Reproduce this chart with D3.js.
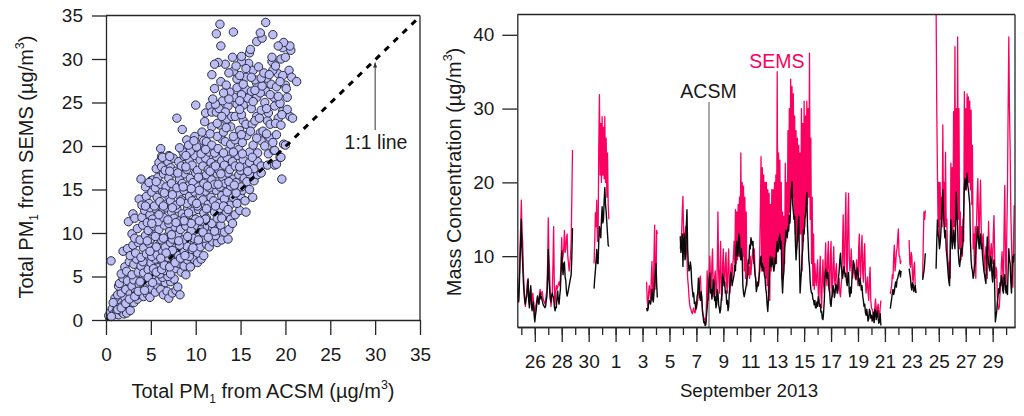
<!DOCTYPE html>
<html>
<head>
<meta charset="utf-8">
<script src="https://cdn.jsdelivr.net/npm/d3@7"></script>
<style>
  html, body { margin: 0; padding: 0; background: #fff; }
  svg { display: block; }
  text { font-family: "Liberation Sans", Arial, sans-serif; font-size: 19.5px; fill: #1a1a1a; }
  .domain, .tick line { stroke: #262626; stroke-width: 1.3; }
</style>
</head>
<body>
<div id="chart"></div>
<script>
// scatter: [PM1 from ACSM, PM1 from SEMS]
const scatterPoints = [
  [0.3,0.5],[0.5,0.9],[0.7,1.3],[0.9,0.7],[1.1,1.8],[1.2,1.1],[1.4,0.6],[1.5,1.5],[1.6,2.3],[1.8,0.9],[1.9,1.7],[2.0,0.7],
  [2.1,2.6],[2.3,1.2],[2.3,0.8],[2.5,2.0],[2.7,1.1],[1.0,2.5],[1.3,2.9],[0.8,2.0],[1.7,3.1],[2.9,2.0],[3.1,2.0],[3.5,2.4],
  [1.4,3.9],[1.5,4.2],[1.9,4.8],[2.2,3.5],[2.4,4.5],[2.7,3.0],[2.9,3.9],[3.1,4.6],[3.3,3.2],[3.4,2.8],[3.7,4.1],[3.9,3.3],
  [4.1,4.8],[4.2,2.7],[4.4,3.8],[4.6,3.0],[4.8,4.4],[4.9,2.6],[5.1,3.6],[5.3,4.9],[5.5,3.2],[5.7,4.0],[5.9,4.6],[6.1,3.5],
  [6.4,2.9],[6.6,4.3],[6.8,3.3],[7.0,2.5],[7.2,4.4],[7.4,3.1],[7.6,4.7],[7.8,3.4],[8.0,3.8],[8.25,2.9],[6.3,4.9],[6.9,5.0],
  [1.7,5.3],[2.1,6.1],[2.3,5.6],[2.6,6.7],[2.9,5.2],[3.1,6.4],[3.4,7.0],[3.6,5.5],[3.9,6.2],[4.2,5.4],[4.4,6.9],[4.7,5.8],
  [5.0,6.6],[5.2,5.2],[5.5,7.0],[5.8,6.0],[6.0,5.3],[6.3,6.8],[6.6,5.7],[6.9,6.4],[7.2,5.3],[7.5,6.9],[7.8,5.9],[8.1,6.5],
  [8.4,5.5],[8.9,5.2],[8.7,6.2],[9.1,6.9],[9.4,6.1],[9.8,7.0],[10.2,6.6],[10.6,7.0],[0.56,6.8],[5.3,5.9],[4.1,6.7],[6.8,7.0],
  [1.9,7.9],[2.4,8.2],[2.7,7.4],[3.0,8.6],[3.3,7.7],[3.6,8.9],[3.9,7.2],[4.2,8.3],[4.5,7.6],[4.8,8.8],[5.1,7.3],[5.4,8.1],
  [5.7,7.5],[6.0,8.7],[6.3,7.9],[6.6,8.4],[6.9,7.2],[7.2,8.9],[7.5,7.7],[7.8,8.3],[8.1,7.4],[8.4,8.8],[8.7,7.9],[9.0,8.5],
  [9.3,7.3],[9.6,8.1],[9.9,8.9],[10.2,7.7],[10.5,8.4],[10.9,7.4],[11.2,8.7],[11.5,8.4],[11.9,9.0],[12.4,8.9],[12.9,9.2],[13.6,9.3],
  [2.9,9.9],[3.2,9.4],[3.5,10.5],[3.8,9.2],[4.1,10.9],[4.4,9.7],[4.7,10.3],[5.0,9.3],[5.3,10.8],[5.6,9.9],[5.9,10.4],[6.2,9.2],
  [6.5,10.9],[6.8,9.6],[7.1,10.2],[7.4,9.3],[7.7,10.7],[8.0,9.8],[8.3,10.4],[8.6,9.2],[8.9,10.8],[9.2,9.7],[9.5,10.3],[9.8,9.4],
  [10.1,10.9],[10.4,9.9],[10.7,10.5],[11.0,9.4],[11.3,10.8],[11.6,9.9],[11.9,10.6],[12.2,9.7],[12.5,10.3],[12.8,10.9],[13.2,10.1],[13.7,10.4],
  [2.5,11.3],[3.0,12.2],[3.2,11.7],[4.0,11.8],[4.3,12.6],[4.6,11.2],[4.9,12.1],[5.2,11.6],[5.5,12.8],[5.8,11.3],[6.1,12.3],[6.4,11.8],
  [6.7,12.9],[7.0,11.1],[7.3,12.4],[7.6,11.7],[7.9,12.8],[8.2,11.4],[8.5,12.2],[8.8,11.8],[9.1,12.9],[9.4,11.2],[9.7,12.5],[10.0,11.6],
  [10.3,12.7],[10.6,11.3],[10.9,12.3],[11.2,11.7],[11.5,12.9],[11.8,11.1],[12.1,12.4],[12.4,11.7],[12.7,12.8],[13.0,11.9],[13.4,12.3],[13.9,11.6],
  [14.4,12.1],[14.9,12.6],[15.6,12.4],[14.1,11.1],[4.9,12.9],[3.7,13.9],[4.0,13.2],[4.5,14.2],[4.8,13.4],[5.1,14.7],[5.4,13.1],[5.7,14.1],
  [6.0,13.6],[6.3,14.8],[6.6,13.3],[6.9,14.3],[7.2,13.7],[7.5,14.9],[7.8,13.2],[8.1,14.4],[8.4,13.8],[8.7,14.9],[9.0,13.4],[9.3,14.2],
  [9.6,13.7],[9.9,14.7],[10.2,13.1],[10.5,14.3],[10.8,13.8],[11.1,14.8],[11.4,13.3],[11.7,14.1],[12.0,13.7],[12.3,14.9],[12.6,13.4],[12.9,14.3],
  [13.2,13.9],[13.5,14.7],[13.8,13.2],[14.2,14.1],[14.6,13.4],[15.0,14.3],[15.5,13.7],[15.2,14.9],[16.35,14.1],[16.0,15.0],[3.9,16.2],[5.0,16.0],
  [5.2,16.1],[4.4,15.3],[4.8,15.8],[5.5,15.2],[5.8,16.4],[6.1,15.6],[6.4,16.8],[6.7,15.3],[7.0,16.3],[7.3,15.7],[7.6,16.9],[7.9,15.2],
  [8.2,16.2],[8.5,15.7],[8.8,16.8],[9.1,15.4],[9.4,16.3],[9.7,15.8],[10.0,16.9],[10.3,15.3],[10.6,16.4],[10.9,15.7],[11.2,16.7],[11.5,15.2],
  [11.8,16.1],[12.1,15.6],[12.4,16.8],[12.7,15.3],[13.0,16.4],[13.3,15.7],[13.6,16.9],[13.9,15.4],[14.2,16.2],[14.5,15.8],[14.8,16.7],[15.1,15.3],
  [15.4,16.3],[15.7,15.9],[16.0,16.8],[16.5,16.0],[16.9,16.7],[17.3,16.9],[19.6,16.2],[5.6,17.4],[5.9,18.1],[6.2,17.6],[6.6,17.2],[6.9,18.2],
  [7.2,17.5],[7.5,18.6],[7.8,17.1],[8.1,18.2],[8.4,17.7],[8.7,18.8],[9.0,17.3],[9.3,18.3],[9.6,17.8],[9.9,18.9],[10.2,17.2],[10.5,18.4],
  [10.8,17.7],[11.1,18.6],[11.4,17.3],[11.7,18.1],[12.0,17.6],[12.3,18.8],[12.6,17.2],[12.9,18.3],[13.2,17.8],[13.5,18.7],[13.8,17.3],[14.1,18.2],
  [14.4,17.7],[14.7,18.9],[15.0,17.2],[15.3,18.4],[15.6,17.6],[16.0,18.1],[16.5,17.4],[16.9,18.2],[17.3,17.7],[18.0,17.8],[18.8,17.8],[19.0,17.9],
  [19.4,18.7],[19.5,18.7],[6.1,19.7],[6.2,18.8],[7.0,18.9],[6.3,18.7],[7.1,18.8],[8.6,19.3],[9.0,20.7],[9.4,19.4],[9.9,21.1],[10.3,20.2],
  [10.6,19.1],[10.9,20.6],[11.2,20.5],[11.5,19.3],[11.8,20.1],[12.1,19.2],[12.5,19.7],[12.9,20.8],[13.3,20.5],[13.6,19.4],[13.9,20.2],[14.4,20.7],
  [14.8,19.6],[15.2,20.4],[15.7,21.2],[16.0,19.3],[16.4,20.1],[16.9,19.2],[17.3,20.6],[17.7,20.0],[18.1,19.1],[18.7,19.5],[18.8,19.5],[19.8,20.2],
  [20.0,20.1],[7.9,23.2],[8.5,21.9],[10.0,24.7],[11.0,22.8],[11.1,23.8],[11.6,24.6],[11.8,22.2],[11.8,23.9],[12.3,23.9],[12.7,22.4],[12.4,21.1],
  [13.1,21.6],[13.5,23.1],[13.9,22.2],[14.0,23.4],[14.4,23.4],[14.9,21.8],[15.3,22.9],[15.6,22.5],[16.3,22.5],[16.8,23.4],[17.2,21.5],[17.5,21.7],
  [18.0,22.9],[18.3,22.5],[18.3,20.9],[19.0,21.3],[19.2,23.2],[20.5,23.4],[20.8,23.2],[19.7,24.0],[20.2,24.2],[18.8,24.6],[19.4,24.9],[18.7,25.6],
  [17.7,25.0],[16.8,25.6],[16.2,24.3],[15.3,24.7],[14.6,24.8],[13.6,24.6],[13.0,25.2],[17.3,24.1],[18.1,23.8],[15.8,25.5],[14.3,25.6],[12.6,24.3],
  [13.8,26.2],[14.6,26.7],[15.6,26.5],[16.8,27.2],[17.8,26.3],[18.4,27.1],[19.0,26.8],[20.0,27.0],[20.1,26.6],[17.2,26.1],[15.1,25.9],[16.2,26.3],
  [11.8,28.2],[12.8,27.4],[13.4,27.0],[14.6,27.7],[15.6,27.9],[16.6,27.6],[17.9,27.8],[19.2,28.3],[18.6,28.7],[20.4,28.7],[20.7,27.9],[21.25,27.4],
  [16.4,28.7],[17.0,29.1],[15.9,29.5],[15.1,29.7],[13.3,29.4],[12.5,29.6],[12.1,29.4],[14.1,30.2],[15.1,30.3],[16.0,30.7],[16.1,31.1],[18.5,29.7],
  [18.5,30.2],[19.5,30.0],[20.0,30.2],[20.6,31.0],[19.7,31.3],[20.5,31.5],[19.8,31.9],[19.2,31.5],[12.8,31.5],[16.8,32.0],[17.4,32.4],[17.2,33.0],
  [18.6,32.8],[14.2,33.1],[12.3,32.9],[12.7,34.0],[17.8,34.2]
];
// drawn after the 1:1 line, so these cover part of the dashes
const scatterOverLine = [
  [0.6,0.4],[1.3,1.2],[1.7,1.4],[2.2,1.9],[2.6,2.4],[3.2,2.7],[3.6,3.3],[3.8,4.4],[4.3,3.4],[4.7,4.9],[5.2,4.3],[5.6,5.5],
  [6.2,5.8],[6.5,6.3],[7.1,6.1],[7.7,6.6],[8.3,7.1],[8.8,7.4],[8.2,8.6],[7.4,8.0],[6.7,7.7],[6.1,7.1],[5.6,8.4],[4.9,7.9],
  [4.6,9.1],[5.5,9.6],[6.4,9.4],[7.3,9.8],[8.1,9.1],[9.1,9.6],[9.7,8.3],[10.3,9.2],[10.8,10.1],[11.4,9.5],[12.1,10.2],[12.9,11.7],
  [11.1,11.6],[10.4,11.4],[9.5,11.1],[8.7,11.4],[7.8,11.2],[6.9,11.5],[5.9,12.1],[5.1,11.1],[4.4,13.1],[6.4,13.1],[7.4,12.9],[8.3,13.6],
  [9.2,12.3],[10.1,13.4],[11.2,12.8],[12.2,13.1],[13.1,13.1],[13.6,12.7],[14.5,14.6],[12.5,15.6],[11.3,15.4],[10.4,14.9],[9.5,15.1],[8.6,15.3],
  [7.4,14.4],[6.5,14.6],[5.6,15.9],[7.1,17.1],[8.0,16.9],[8.9,17.6],[10.3,16.4],[11.6,17.1],[12.8,16.8],[13.7,15.9],[14.3,15.5],[14.9,17.6],
  [15.8,17.1],[16.3,18.7],[15.2,19.1],[14.2,19.3],[13.1,19.2],[12.2,17.7],[11.1,19.6],[10.1,19.9],[9.2,20.1],[8.2,19.8],[8.9,18.9],[9.8,20.6],
  [10.7,21.6],[11.6,21.4],[12.4,22.6],[13.4,22.1],[14.2,21.1],[15.1,21.3],[16.1,21.7],[16.8,20.9],[17.9,21.4],[18.6,20.4],[16.6,22.9],[15.1,23.6],
  [14.9,24.2],[13.3,23.9],[12.2,24.8],[12.9,23.4],[13.7,25.4],[14.9,25.2],[16.4,25.1],[17.1,23.2],[17.9,24.3],[18.9,22.6],[19.5,22.4],[19.6,23.6],
  [18.3,25.9],[17.4,26.9],[16.6,26.4],[15.3,27.1],[14.9,28.1],[16.2,27.9],[17.3,27.8],[17.6,28.4],[18.2,28.2],[18.9,29.2],[19.7,28.1],[19.4,27.4],
  [20.2,25.6],[19.2,25.7],[14.2,28.6],[13.7,28.4],[14.5,29.2],[15.6,28.9],[13.1,26.1],[12.1,26.6],[11.9,25.4]
];
const scatterTicks = [0, 5, 10, 15, 20, 25, 30, 35];

// time series pieces: dayStart counts from 1 Aug 2013 (32 = 1 Sep), one value per stepDays
const stepDays = 0.05;
const dayStart = [24.7, 30.4, 34.3, 36.8, 52.4, 53.8, 54.8, 55.8];
const semsValues = [
  [5.5,3.8,4,7,11,14,17.6,13,12,8,6,4,3.2,4.5,5,6.5,7,4,3.5,4.8,5.5,3.5,3,5,4,2.8,2,3,3.5,4,4.5,3.8,3.5,5,5.5,4.5,5,5.2,4.5,4,3.8,3.5,4,4.8,5.5,9,
   15.2,10,8,4.5,3.2,4,5,9,14,6,3.4,5,6,5.5,5.8,6.2,6.5,6,7,9,12.5,9.5,10,11,13.5,10.5,11,12.5,13,10,9,8,9,10,12,18,24.4],
  [9,12,15.9,14,17.6,12,12,25,31.9,21,28,20,28.9,21,27.5,20.5,28.9,20,26,18,24,17,15],
  [6.5,4,3,5,6,5,4,7,9.3,5,4.5,10,14.2,7,5.5,13.5,13],
  [11,12,13,16,18.1,13,11,13,14,11,10,7,6,4.5,3.5,3,2.8,2.4,2.2,2.6,
   3,2.5,2.3,2.7,3,3.5,4,5,6,7,7.3,5,4,2.8,2,1.7,1.5,1.2,1,4,
   8,5,4,8,10,6,5,9,11,6,4.5,7,8,5,4,9,16,8,5,8,
   12,5,4,9,11,7,6,9,10.5,6,5,9,11,6,5,8,9,7,8.6,10,
   12,9,16.3,9,16,9.5,17,10,18,10,24,11,20,10,19.5,8,18,7,16,6,
   9,7.5,8.5,7,10,7.5,9,10,11,9,11,8,7,6,6,6,6,7,10,16,
   23.5,8,22,8,21,8,20,7,20,6,19,5,18.5,4,17,8,19,9,19,8,
   20,9,21,9,35,12,24,11,23,11,20,7,16,7,15.4,9,22.6,12,20,13,
   27,14,30,16,34,18,33,18,32,15,29,13,27,11,26,12,25,13,24,13,
   30,8,28,12,31,14,29,16,31,17,30,18,37.5,15,26,9,18,6,13,5.5,
   9,7,6,8,9.5,5,4,8,10,5,3,7,9.5,6,5,9,11.8,7,6,10,
   12,6,5,10,12,6,4.5,9,11.3,7,6,8,9,6,5,6,7,5,4.5,6,
   7,11,15.6,9,8,14,18.6,9,7,15,18.5,10,8,9,11,8,7,8,9,7.5,
   7,8,9.5,7,6,11,13,8,7,11,12.8,8,6.5,10,11.7,7,5,6,7.2,5,
   4,7,8.5,4,3,2.8,2.5,1.5,1,3,4.2,3,2,3,3.5,2,1.5,3,4],
  [4.9,5.5,6,7.5,7,10,11.5,8,9,10.5,11,12.5,13.7,10,10,9,9.4],
  [12.2,9,8.5,10.5,10,7,6.5,8.5,9.2,6,5],
  [7,12,16,15,16.2],
  [44,30,21.2,14,20,12,20,15,18,14,27.8,15,20,14,24.1,14,15,10,9,7.5,
   9.2,7,22.6,12,22,12,29.6,14,38.4,12,30,15,39.7,15,30,11,16,9.5,14,10,
   15,12,32.3,19,30,19,32,20,31.6,20,31,19,29.8,17,25,11,13,8,14,7,
   14,18,20.5,15,12,17,20.3,14,11,12,13,10,8,10,11.3,9,7,11,14.7,11,
   9,10.5,11.7,10,9,13,15.5,10,7,8.5,8,4.5,3,2.8,3.2,5,6,9,10.6,8,
   6,14,19.6,10,6,13,19,30,39.7,30,24.4,16,12,8,5.8,12,16.9]
];
const acsmValues = [
  [7,4.5,3.8,6,9,12,15,11,9,6.5,5,4,3.5,4.2,4.5,5.8,6.8,4,3,5,6,3.4,2.6,3.4,3.8,2,1.1,2,2.6,3.6,4.6,3.8,3.5,4.5,5,4.2,4.5,4,3.6,3.3,3.2,3,3.2,4,4.5,7,
   10.9,7,5.5,4.2,3.8,4.6,5,4.6,4.4,3.2,2.6,3.1,3,4.5,5.3,4,3.5,4.6,5.5,8,10.7,8.6,7.5,9,9.2,7.2,6.7,5.2,4.6,5,5.5,6,6.5,7,7.5,10,13.8],
  [5.6,7,8,9.5,10.9,9,9,12,14,13,12.5,15,16.7,14.5,15,17.5,19.3,17,16,14.5,13,11.5,11.3],
  [3,2.6,2.7,3.5,4,3.8,3.5,4.2,5.5,4.2,3.8,5,6.5,8,9,6.2,4.4],
  [12.7,10.5,11.5,13,8.6,12,13,9.5,10,14,16.3,11,9,8,8.2,9.2,8.5,6.5,5.5,4.5,
   5,3.6,3.8,2.8,3,4.5,5,7,6.3,4.4,4,5.2,4.5,2.5,1.8,1,1.1,0.6,0.7,2,
   3,4.2,5,7,7.7,5,5.5,4.2,5,6.8,6.5,4,4.5,3,3.5,5.5,5,3.4,3,2.3,
   2.8,4.2,5,7.6,7,6,6.5,5,5.3,3.5,4,2.6,3.2,5.2,6,7.8,7.3,6,6.5,7,
   7.5,8.8,8,11,12,10,10.5,13,12.5,10,9.5,11,10,6,5,4.5,5,5.5,6,7,
   7.3,9.5,9,11.5,11,12.5,12,11.5,12,9.8,9,7.5,7,5.2,5.7,6.5,6,7.2,8,9.5,
   10,8.5,9,8,8.5,7.5,7,5.6,5,3.5,2.5,4,6,9,10,8.6,9,9.8,8.6,8,
   8.6,9.8,9,11,12,10.6,11,12.5,13,11,12,7,5,7,8,11,12,13.5,13,12.5,
   14,13.4,15.5,14.5,17,19,20.1,17,16,15,15.4,12,9.5,11,12,14,15.4,10,5,6.5,
   8,10,11,13.5,13,15,15.5,17,18.6,14,12,9.5,8.6,6.5,5.5,5,5,4.2,4,3.4,
   4,3,3,3.8,3.2,4.5,4,3.2,3.5,2.4,2.5,1.5,1.4,2.5,4,7,8.2,7.5,7,7.8,
   7,5.6,5,3.6,3.2,4.4,5,6,5.5,4.4,5,6.2,6,5,5.5,7,8,9.5,10.4,8.6,
   8,7,7.7,8.6,8,7.2,7.7,6.5,6,7.2,7.8,5.2,4.5,5.8,5,7,8,9.4,9,8.2,
   8,6.8,7.6,8.4,7.8,6.6,6,7,6.3,5.4,6,4.6,4,3.2,3.5,2.4,2,2.8,2,1.2,
   1.5,2.8,2.5,1.6,2,1.2,1.5,2.4,1,2.8,2.5,1.4,2,2.6,1.5,0.9,1.2,2.2,0.6],
  [2.9,3.6,4.2,5,5.5,4.8,5.2,6,6.5,5.8,6.8,7,7.5,7.8,8.1,7.2,8],
  [8.3,7.6,7,5.8,5.4,6.4,6.2,5.2,5.6,6,5],
  [6.8,7.4,8,9,10.4],
  [8.3,12,14.9,13,12.5,11,11.7,13,15,17,19,15.5,14,12.5,13.5,11,10,8.8,7.5,6.5,
   6,11,14.9,12.6,11,12.4,13.5,11.8,11,15,18.7,15.5,14,10.5,9.2,8.6,9.5,11,10.3,11,
   12,16,19.4,20.5,19,20,21.2,19.6,19,18,17,12,9.5,8.4,8,7,7.4,8.6,9,11,
   11.7,13,14,12,11,12.4,13,11,11.7,10,9,8,7.5,6.8,6.3,10,12.6,10,9,8.4,
   8,10,9.5,7.4,6.5,8.5,9.5,6,1.1,1.8,2.5,3.8,4.5,5.6,5,6.4,6,7.4,7,5.4,
   5,7,7.5,5.6,5,6,4.8,8,11,9.6,9,6.4,5,8,10,9.2,10.3]
];
const concTicks = [10, 20, 30, 40];
const labelledDays = [26, 28, 30, 32, 34, 36, 38, 40, 42, 44, 46, 48, 50, 52, 54, 56, 58, 60];

const W = 1024, H = 416;
const svg = d3.select("#chart").append("svg").attr("width", W).attr("height", H);

const toDate = day => new Date(Date.UTC(2013, 7, 0) + day * 864e5);

// =========================
// LEFT PANEL
// =========================
const sx = d3.scaleLinear().domain([0, 35]).range([106, 420]);
const sy = d3.scaleLinear().domain([0, 35]).range([320, 15.5]);

const left = svg.append("g");

function drawPoints(points) {
  left.append("g").selectAll("circle")
    .data(points)
    .enter().append("circle")
    .attr("cx", d => sx(d[0]))
    .attr("cy", d => sy(d[1]))
    .attr("r", 4.2)
    .attr("fill", "#bcbdf2")
    .attr("stroke", "#2b2b45")
    .attr("stroke-width", 1);
}

drawPoints(scatterPoints);

left.append("line")
  .attr("x1", sx(0)).attr("y1", sy(0))
  .attr("x2", sx(34.7)).attr("y2", sy(34.6))
  .attr("stroke", "#000")
  .attr("stroke-width", 3)
  .attr("stroke-dasharray", "6 6.5");

drawPoints(scatterOverLine);

left.append("g").attr("transform", "translate(0,320)")
  .call(d3.axisBottom(sx).tickValues(scatterTicks).tickSize(15).tickSizeOuter(0).tickPadding(13));
left.append("g").attr("transform", "translate(106,0)")
  .call(d3.axisLeft(sy).tickValues(scatterTicks).tickSize(14).tickSizeOuter(0).tickPadding(9));
left.append("line").attr("x1", 106).attr("x2", 420).attr("y1", 15.5).attr("y2", 15.5).attr("stroke", "#262626").attr("stroke-width", 1.3);
left.append("line").attr("x1", 420).attr("x2", 420).attr("y1", 15.5).attr("y2", 320).attr("stroke", "#262626").attr("stroke-width", 1.3);

// 1:1 leader
left.append("line").attr("x1", sx(30)).attr("x2", sx(30)).attr("y1", 130).attr("y2", sy(29.6)).attr("stroke", "#333").attr("stroke-width", 1);
left.append("path")
  .attr("d", d3.line()([[sx(30) - 2, sy(29.6) + 5], [sx(30), sy(29.6)], [sx(30) + 2, sy(29.6) + 5]]))
  .attr("fill", "#333");
left.append("text").attr("x", 376).attr("y", 149).attr("text-anchor", "middle").text("1:1 line");

function unitLabel(g, before, sub, mid) {
  const t = g.append("text").attr("text-anchor", "middle").style("font-size", "20px");
  t.append("tspan").text(before);
  if (sub) t.append("tspan").attr("dy", 5).style("font-size", "12px").text(sub);
  t.append("tspan").attr("dy", sub ? -5 : 0).text(mid);
  t.append("tspan").attr("dy", -9).style("font-size", "12.5px").text("3");
  t.append("tspan").attr("dy", 9).text(")");
  return t;
}
unitLabel(left, "Total PM", "1", " from ACSM (µg/m").attr("transform", "translate(263,398)");
unitLabel(left, "Total PM", "1", " from SEMS (µg/m").attr("transform", "translate(33,167) rotate(-90)");

// =========================
// RIGHT PANEL
// =========================
const tx = d3.scaleUtc().domain([toDate(24.7), toDate(61.66)]).range([517.3, 1015]);
const ty = d3.scaleLinear().domain([0.4, 42.75]).range([327, 14.5]);

svg.append("defs").append("clipPath").attr("id", "plot-clip")
  .append("rect").attr("x", 517.3).attr("y", 14.5).attr("width", 497.7).attr("height", 312.5);

const right = svg.append("g");
const plotArea = right.append("g").attr("clip-path", "url(#plot-clip)");

// leader sits behind the traces
plotArea.append("line").attr("x1", 709).attr("x2", 709).attr("y1", 102).attr("y2", 327)
  .attr("stroke", "#6e6e6e").attr("stroke-width", 1.2);

function drawSeries(values, color, width) {
  values.forEach((vals, k) => {
    const line = d3.line()
      .x((v, i) => tx(toDate(dayStart[k] + i * stepDays)))
      .y(v => ty(v));
    plotArea.append("path")
      .attr("d", line(vals))
      .attr("fill", "none")
      .attr("stroke", color)
      .attr("stroke-width", width)
      .attr("stroke-linejoin", "round");
  });
}
drawSeries(semsValues, "#fa0060", 1.3);
drawSeries(acsmValues, "#0a0a0a", 1.4);

const minorDays = d3.utcDay.range(toDate(25), toDate(62));
right.append("g").attr("transform", "translate(0,327)")
  .call(d3.axisBottom(tx).tickValues(minorDays).tickSize(8).tickSizeOuter(0).tickFormat(""));
right.append("g").attr("transform", "translate(0,327)")
  .call(d3.axisBottom(tx).tickValues(labelledDays.map(toDate)).tickSize(15).tickSizeOuter(0).tickPadding(12.5).tickFormat(d3.utcFormat("%-d")));
right.append("g").attr("transform", "translate(517.3,0)")
  .call(d3.axisLeft(ty).tickValues(concTicks).tickSize(15).tickSizeOuter(0).tickPadding(8));
right.append("line").attr("x1", 517.3).attr("x2", 1015).attr("y1", 14.5).attr("y2", 14.5).attr("stroke", "#262626").attr("stroke-width", 1.3);
right.append("line").attr("x1", 1015).attr("x2", 1015).attr("y1", 14.5).attr("y2", 327).attr("stroke", "#262626").attr("stroke-width", 1.3);

right.append("text").attr("x", 708.5).attr("y", 97.5).attr("text-anchor", "middle").text("ACSM");
right.append("text").attr("x", 777).attr("y", 67.5).attr("text-anchor", "middle").style("fill", "#fa0060").text("SEMS");
right.append("text").attr("x", 749).attr("y", 396.5).attr("text-anchor", "middle").style("font-size", "18.7px").text("September 2013");
unitLabel(right, "Mass Concentration (µg/m", null, "").attr("transform", "translate(461,172) rotate(-90)");

svg.selectAll(".tick text").style("font-size", "19px").style("fill", "#1a1a1a");
</script>
</body>
</html>
